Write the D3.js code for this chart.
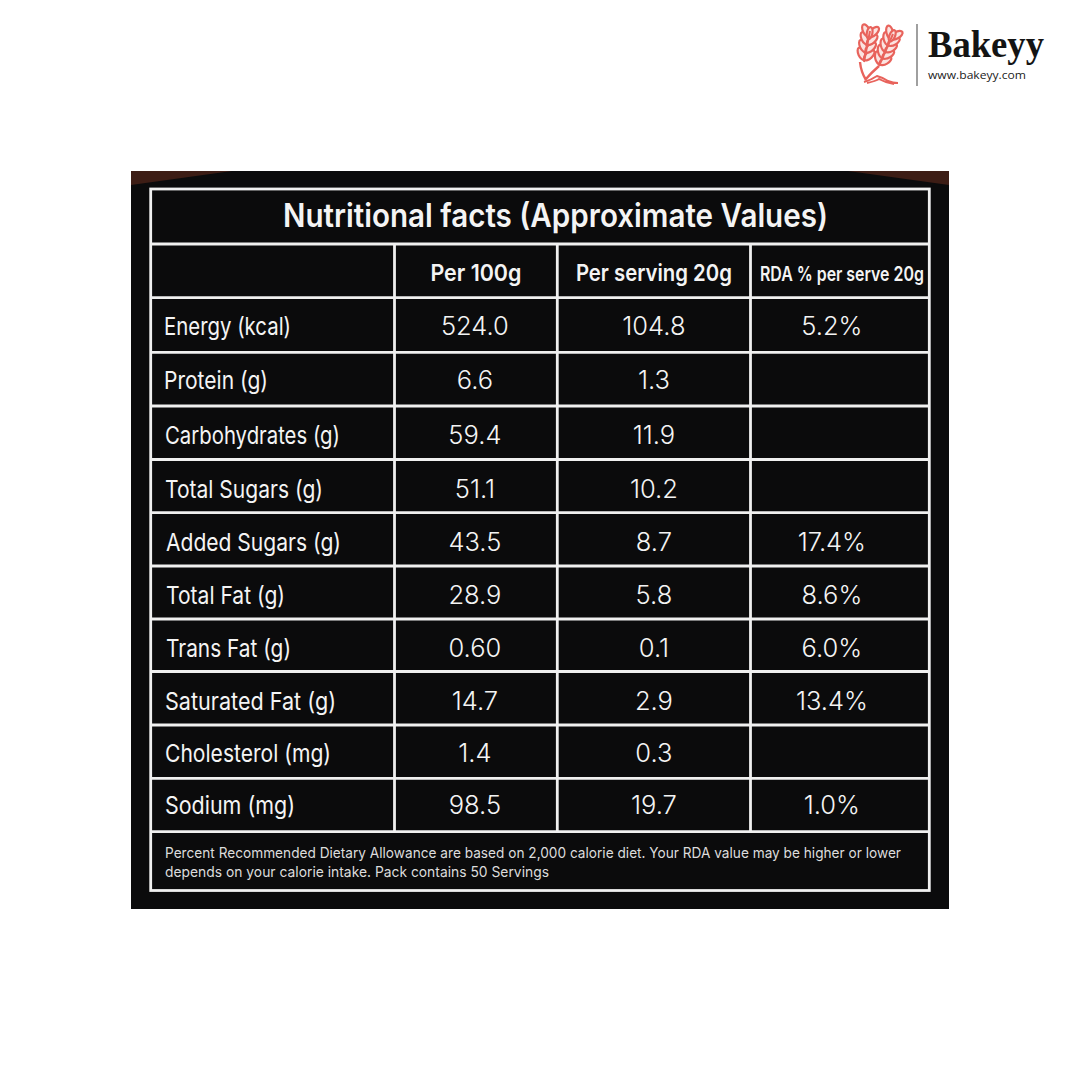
<!DOCTYPE html>
<html><head><meta charset="utf-8">
<script src="https://cdn.jsdelivr.net/npm/d3@7"></script>
<style>html,body{margin:0;padding:0;background:#fff}svg{display:block}text{font-family:Inter,Roboto,sans-serif;fill:#f4f4f4}</style>
</head><body><div id="c"></div>
<script>
const title = "Nutritional facts (Approximate Values)";
const columns = ["Per 100g", "Per serving 20g", "RDA % per serve 20g"];
const nutrients = ["Energy (kcal)","Protein (g)","Carbohydrates (g)","Total Sugars (g)","Added Sugars (g)","Total Fat (g)","Trans Fat (g)","Saturated Fat (g)","Cholesterol (mg)","Sodium (mg)"];
const per100g = ["524.0","6.6","59.4","51.1","43.5","28.9","0.60","14.7","1.4","98.5"];
const perServing = ["104.8","1.3","11.9","10.2","8.7","5.8","0.1","2.9","0.3","19.7"];
const rdaPercent = ["5.2%","","","","17.4%","8.6%","6.0%","13.4%","","1.0%"];
const footnote = ["Percent Recommended Dietary Allowance are based on 2,000 calorie diet. Your RDA value may be higher or lower","depends on your calorie intake. Pack contains 50 Servings"];

const svg = d3.select("#c").append("svg").attr("width",1080).attr("height",1080);
const L=150.7,R=929.3,T=189,B=890.5, colX=[394.5,557.3,750.5], titleB=244;
const rowLines=[297.6,352.3,406,459.5,512.7,566,619,671.5,725,778.3,831.7];
const rowTop=d3.scaleOrdinal().domain(nutrients).range(rowLines.slice(0,-1));
const rowBottom=d3.scaleOrdinal().domain(nutrients).range(rowLines.slice(1));
const edges=[L,...colX,R];
const colCenter=i=>(edges[i+1]+edges[i+2])/2;

svg.append("rect").attr("x",131).attr("y",171).attr("width",818).attr("height",738).attr("fill","#0b0b0c");
svg.append("path").attr("d","M131,171H232L131,185Z").attr("fill","#3d1d15");
svg.append("path").attr("d","M949,171H848L949,185Z").attr("fill","#3d1d15");

const w="#f0f0f0";
const hl=(yy,x1=L,x2=R,sw=2.8)=>svg.append("line").attr("x1",x1).attr("x2",x2).attr("y1",yy).attr("y2",yy).attr("stroke",w).attr("stroke-width",sw);
const vl=(xx,y1,y2,sw=2.8)=>svg.append("line").attr("x1",xx).attr("x2",xx).attr("y1",y1).attr("y2",y2).attr("stroke",w).attr("stroke-width",sw);
svg.append("rect").attr("x",L).attr("y",T).attr("width",R-L).attr("height",B-T).attr("fill","none").attr("stroke",w).attr("stroke-width",2.8);
hl(titleB);
rowLines.forEach(v=>hl(v));
colX.forEach(x=>vl(x,titleB,rowLines[rowLines.length-1]));

function fit(sel,width){ sel.attr("textLength",width).attr("lengthAdjust","spacingAndGlyphs"); return sel; }

fit(svg.append("text").attr("x",555.5).attr("y",227).attr("text-anchor","middle").attr("font-size",32).attr("font-weight",600).text(title),545);

const headW=[91,156,164], headFs=[23,23,20], headShift=[0,0,2];
columns.forEach((c,i)=>{
  fit(svg.append("text").attr("x",colCenter(i)+headShift[i]).attr("y",281).attr("text-anchor","middle").attr("font-size",headFs[i]).attr("font-weight",600).text(c),headW[i]);
});

const labelX=[164,164,165,165,166,166,166,165,165,165];
const labelW=[127,104,175,158,175,119,125,171,166,130];
const rowNudge=[0.7,0,2,2,2,2,2,2,1,-1];
const valueShift=[-1,0,-8];
nutrients.forEach((n,i)=>{
  const cy=(rowTop(n)+rowBottom(n))/2+9.5+rowNudge[i];
  fit(svg.append("text").attr("x",labelX[i]).attr("y",cy).attr("font-size",24.5).attr("font-weight",400).text(n),labelW[i]);
  [per100g,perServing,rdaPercent].forEach((arr,j)=>{
    if(arr[i]) svg.append("text").attr("x",colCenter(j)+valueShift[j]).attr("y",cy).attr("text-anchor","middle").attr("font-size",25.5).attr("font-weight",300).text(arr[i]);
  });
});

fit(svg.append("text").attr("x",165).attr("y",858).attr("font-size",14.5).text(footnote[0]).style("fill","#dcdcdc"),736);
fit(svg.append("text").attr("x",165).attr("y",877).attr("font-size",14.5).text(footnote[1]).style("fill","#dcdcdc"),384);

// Logo
const logo=svg.append("g").attr("transform","translate(-2,0)");
const coral="#e8635c";
function stalk(x0,y0,x1,y1,n){
  const g=logo.append("g");
  const ang=Math.atan2(y1-y0,x1-x0)*180/Math.PI;
  d3.range(n).forEach(k=>{
    const t=(k+0.3)/n, px=x0+(x1-x0)*t, py=y0+(y1-y0)*t;
    [-36,36].forEach(d=>{
      g.append("ellipse").attr("rx",6.6).attr("ry",3.3).attr("transform",`translate(${px},${py}) rotate(${ang+d}) translate(6.5,0)`).attr("fill","#fbe4e1").attr("stroke",coral).attr("stroke-width",2.2);
    });
  });
  g.append("ellipse").attr("rx",6).attr("ry",2.8).attr("transform",`translate(${x1},${y1}) rotate(${ang}) translate(-2,0)`).attr("fill","#fbe4e1").attr("stroke",coral).attr("stroke-width",2.2);
  g.append("line").attr("x1",x0).attr("y1",y0).attr("x2",x1).attr("y2",y1).attr("stroke",coral).attr("stroke-width",2);
}
stalk(866,62,872,31,4);
stalk(881,66,895,34,5);
logo.append("path").attr("d","M862,62Q863,72 868,80M881,66Q873,73 867,80").attr("fill","none").attr("stroke",coral).attr("stroke-width",2.4);
logo.append("path").attr("d","M866,82Q873,80 879,76Q886,78 890,81Q895,83 900,83M869,83Q878,81 881,79Q888,83 896,84").attr("fill","none").attr("stroke",coral).attr("stroke-width",2);
svg.append("line").attr("x1",917).attr("x2",917).attr("y1",24).attr("y2",86).attr("stroke","#777").attr("stroke-width",1.4);
svg.append("text").attr("x",928).attr("y",57).attr("font-size",37).attr("font-weight",700).attr("textLength",116).attr("lengthAdjust","spacingAndGlyphs").style("font-family","'Liberation Serif'").style("fill","#141414").text("Bakeyy");
svg.append("text").attr("x",928).attr("y",79).attr("font-size",11).attr("textLength",98).attr("lengthAdjust","spacingAndGlyphs").style("font-family","'Open Sans'").style("fill","#222").text("www.bakeyy.com");
</script></body></html>
